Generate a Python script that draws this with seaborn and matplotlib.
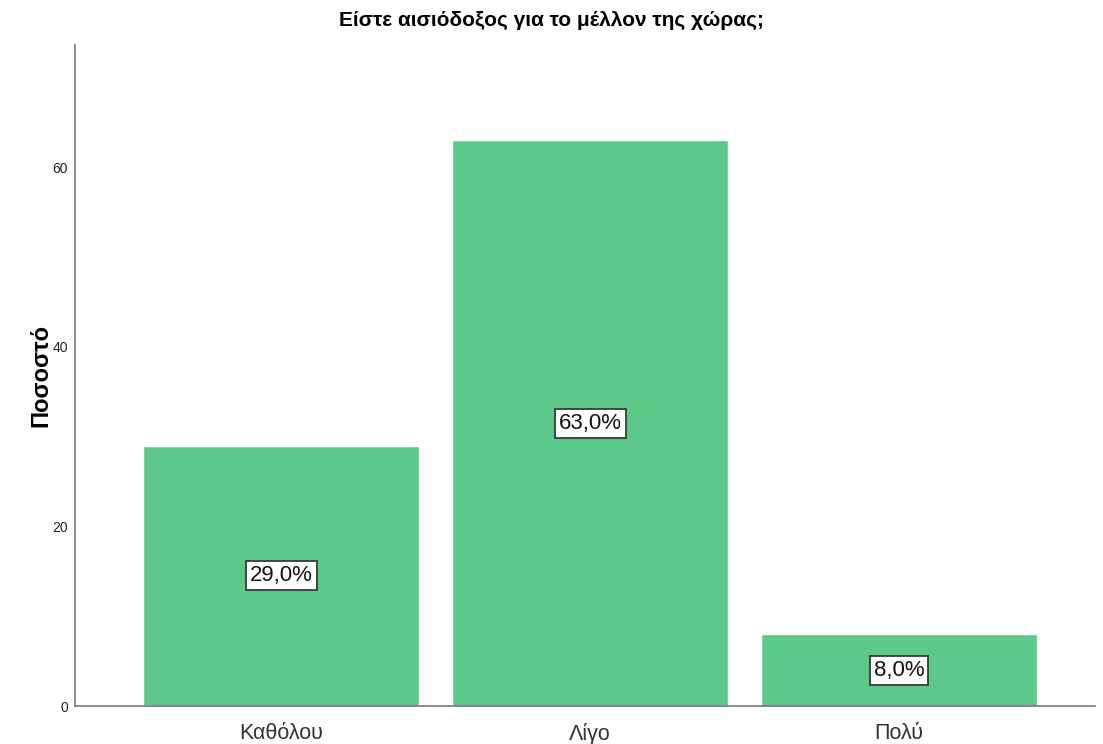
import seaborn as sns
import matplotlib.pyplot as plt
import pandas as pd

# Δεδομένα
categories = ["Καθόλου", "Λίγο", "Πολύ"]
percent = [29.0, 63.0, 8.0]
bar_labels = ["29,0%", "63,0%", "8,0%"]

df = pd.DataFrame({"cat": categories, "pct": percent})

sns.set_style("white")
plt.rcParams['font.family'] = ['Liberation Sans', 'DejaVu Sans']

fig = plt.figure(figsize=(11.03, 7.44), dpi=100)
ax = fig.add_axes([0.068, 0.051, 0.9247, 0.8885])

sns.barplot(data=df, x="cat", y="pct", color="#5cc98a", saturation=1,
            width=0.893, ax=ax)

for i, (v, lab) in enumerate(zip(percent, bar_labels)):
    ax.text(i, v / 2, lab, ha="center", va="center", fontsize=16, color="#111111",
            bbox=dict(boxstyle="square,pad=0.18", fc="white", ec="#3a3a3a", lw=1.3))

ax.set_xlim(-0.667, 2.634)
ax.set_ylim(0, 73.6)
ax.set_yticks([0, 20, 40, 60])
ax.set_xlabel("")
ax.set_ylabel("Ποσοστό", fontsize=17, fontweight="bold", color="black")
ax.yaxis.set_label_coords(-0.022, 0.5)
# τίτλος στο κέντρο της εικόνας
fig.suptitle("Είστε αισιόδοξος για το μέλλον της χώρας;", x=0.5, y=0.985,
             fontsize=15, fontweight="bold", color="black")
ax.tick_params(axis="y", labelsize=10, length=0, pad=5, colors="#222222")
ax.tick_params(axis="x", labelsize=15.5, length=0, pad=12, colors="#333333")
sns.despine(ax=ax)
for s in ["left", "bottom"]:
    ax.spines[s].set_color("#777777")
    ax.spines[s].set_linewidth(1.2)

fig.savefig("out.png", dpi=100)
